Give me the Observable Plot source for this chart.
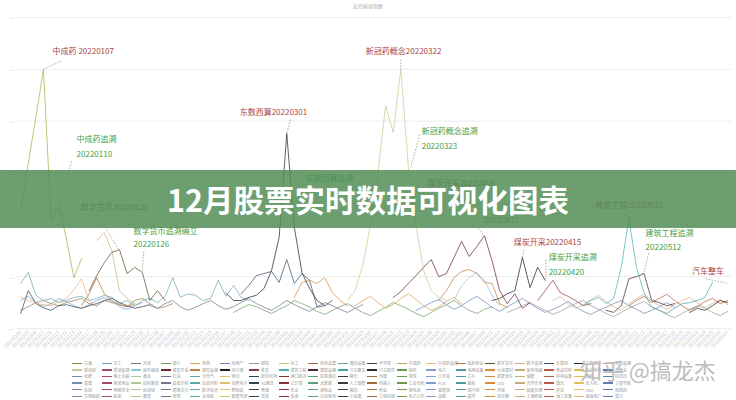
<!DOCTYPE html>
<html><head><meta charset="utf-8">
<script src="https://cdn.jsdelivr.net/npm/d3@7"></script>
<script src="https://cdn.jsdelivr.net/npm/@observablehq/plot@0.6"></script>
<style>
html,body{margin:0;padding:0;background:#fff;}
#wrap{position:relative;width:736px;height:400px;overflow:hidden;font-family:"Noto Sans CJK SC","Noto Sans",sans-serif;}
#chart{position:absolute;left:0;top:0;}
#top{position:absolute;top:3px;left:0;width:736px;text-align:center;font-size:5px;line-height:6px;color:#aaa;}
#legend{position:absolute;left:72px;top:360px;display:grid;grid-template-columns:repeat(19,29.5px);}
.li{height:6.6px;display:flex;align-items:center;font-size:4px;color:#999;white-space:nowrap;}
.li i{display:inline-block;width:10px;height:1.5px;margin-right:2px;flex:none;}
#banner{position:absolute;left:0;top:170px;width:736px;height:58px;background:rgba(82,141,87,0.85);display:flex;align-items:center;justify-content:center;color:#fff;font-size:30.5px;font-weight:bold;}
#wm{position:absolute;left:580px;top:353px;font-size:22px;color:#bdbdbd;}
</style></head><body>
<div id="wrap">
 <div id="chart"></div>
 <div id="top">近日板块指数</div>
 <div id="legend"></div>
 <div id="wm">知乎 @搞龙杰</div>
 <div id="banner">12月股票实时数据可视化图表</div>
</div>
<script>
// ---------- data ----------
const dates = [
"20220104","20220105","20220106","20220107","20220110","20220111","20220112","20220113","20220114","20220117",
"20220118","20220119","20220120","20220121","20220124","20220125","20220126","20220127","20220128",
"20220207","20220208","20220209","20220210","20220211","20220214","20220215","20220216","20220217","20220218",
"20220221","20220222","20220223","20220224","20220225","20220228",
"20220301","20220302","20220303","20220304","20220307","20220308","20220309","20220310","20220311","20220314",
"20220315","20220316","20220317","20220318","20220321","20220322","20220323","20220324","20220325","20220328",
"20220329","20220330","20220331",
"20220401","20220406","20220407","20220408","20220411","20220412","20220413","20220414","20220415","20220418",
"20220419","20220420","20220421","20220422","20220425","20220426","20220427","20220428","20220429",
"20220505","20220506","20220509","20220510","20220511","20220512","20220513","20220516","20220517","20220518",
"20220519","20220520","20220523","20220524","20220525","20220526","20220527"];

const yTicks = [0, 100, 200, 300, 400, 500, 600];

const zhongchengyao      = [228, 318, 408, 500, 208, 237, 174, 98, 135];
const zhongchengyaoZS    = [60, 54, 48, 46, 44, 52, 58, 75, 96, 54, 42];
const shuzihuobi         = [73, 102, 127, 147, 152, 106, 118, 108, 54, 73, 54];
const shuzihuobiZS       = [170, 185, 150, 73, 58, 48];
const yiyaoshangye       = [44, 67, 98, 67, 54, 46, 42, 48];
const tongxinshebei      = [87, 108, 64, 54, 58, 50, 54, 60, 62, 54, 58, 64, 60, 48, 54, 44, 54, 58, 50, 62, 98, 60, 67, 64, 54, 58, 93, 62, 83, 60, 54];
const bandaoti           = [29, 73, 48, 40, 35, 44, 46, 42, 39, 44, 48, 54, 58, 50, 44, 39, 42, 46];
const jisuanji           = [67, 83, 102, 106, 110, 89, 133, 87, 106, 93, 41, 44, 54];
const dongshuxisuan      = [69, 54, 54, 60, 64, 77, 112, 176, 376, 195, 108, 77, 54, 44];
const dongshuxisuanZS    = [60, 89, 93, 87, 98, 69, 54, 44];
const xinguanyao         = [54, 73, 122, 199, 301, 430, 378, 500, 311, 199, 112, 73, 60, 54];
const meitankaicai       = [60, 71, 87, 102, 118, 133, 100, 106, 137, 168, 139, 158, 179, 131, 73, 48, 67, 39, 50];
const meitanZS           = [54, 73, 98, 110, 114, 106, 89, 87, 48, 41];
const donglimei          = [54, 58, 67, 73, 137, 79, 118, 93];
const jiaotan            = [54, 73, 93, 69, 62, 54, 44, 48];
const yiliaoqixie        = [54, 83, 98, 108, 93, 64, 44];
const jianzhugongcheng   = [44, 54, 60, 48, 58, 118, 212, 118, 69, 41, 35];
const jianzhuZS          = [35, 31, 44, 96, 100, 106, 54, 50, 44, 48];
const qichezhengche      = [35, 29, 39, 48, 50, 54, 60, 89];
const qichepeijian       = [31, 39, 35, 44, 54, 50];
const baijiu             = [35, 42, 50, 54, 48, 44, 50, 54, 58, 48, 44, 54, 50, 46, 42, 54, 58, 48, 39, 42, 48];
const guangfu            = [44, 39, 48, 54, 42, 35, 41, 48, 54, 44, 37, 42, 50, 58, 48, 41, 35, 44, 54, 46, 39, 33, 42, 50, 44, 37, 31, 39, 46];
const yinhang            = [31, 39, 46, 42, 35, 29, 37, 44, 54, 48, 41, 33, 27, 35, 42, 48, 39, 31, 25, 33, 41, 50, 44, 37, 29, 23, 31, 39, 46, 54, 44, 35, 29, 37, 42];
const quanshang          = [44, 54, 62, 50, 39, 46, 58, 67, 56, 44, 35, 42, 52, 60, 48];
const fangdichan         = [35, 42, 50, 56, 46, 37, 44, 54, 62, 52, 41, 33, 42, 50, 58, 48, 39, 31, 37, 44, 52, 42, 33, 27, 35, 41, 48, 54, 44, 37, 29, 35, 42, 50, 41];
const gangtie            = [31, 37, 44, 50, 42, 35, 27, 33, 41, 48, 54, 44, 37, 29, 23, 31, 39, 46, 52, 42, 35, 27, 21, 29, 37, 44, 39, 31, 25, 33];
const huagong            = [54, 62, 48, 39, 46, 56, 64, 52, 42, 35, 48, 58, 66, 54, 44, 37, 46, 54, 60, 50, 41, 48, 56, 46];
const youse              = [44, 54, 62, 50, 58, 66, 54, 44, 35, 42, 52, 58, 48, 54];
const jungong            = [54, 62, 50, 42, 48, 58, 52, 44, 39, 46, 54, 60, 52, 42, 37, 44, 50];

// [series name, first date, values]
const seriesList = [
  ["白酒", "20220104", baijiu],
  ["军工", "20220104", jungong],
  ["光伏", "20220127", guangfu],
  ["银行", "20220218", yinhang],
  ["券商", "20220314", quanshang],
  ["房地产", "20220324", fangdichan],
  ["钢铁", "20220413", gangtie],
  ["化工", "20220421", huagong],
  ["有色金属", "20220510", youse],
  ["通信设备", "20220104", tongxinshebei],
  ["半导体", "20220104", bandaoti],
  ["中成药追溯", "20220104", zhongchengyaoZS],
  ["医药商业", "20220114", yiyaoshangye],
  ["数字货币追溯", "20220118", shuzihuobiZS],
  ["数字货币", "20220117", shuzihuobi],
  ["计算机", "20220221", jisuanji],
  ["东数西算追溯", "20220302", dongshuxisuanZS],
  ["医疗器械", "20220331", yiliaoqixie],
  ["煤炭开采追溯", "20220329", meitanZS],
  ["焦炭", "20220419", jiaotan],
  ["建筑工程追溯", "20220505", jianzhuZS],
  ["汽车配件", "20220520", qichepeijian],
  ["汽车整车", "20220516", qichezhengche],
  ["建筑工程", "20220427", jianzhugongcheng],
  ["动力煤", "20220411", donglimei],
  ["煤炭开采", "20220321", meitankaicai],
  ["东数西算", "20220217", dongshuxisuan],
  ["新冠药概念", "20220311", xinguanyao],
  ["中成药", "20220104", zhongchengyao]
];

const legendNames = [
  "白酒","军工","光伏","银行","券商","房地产","钢铁","化工","有色金属","通信设备","半导体","中成药","中成药追溯","医药商业","数字货币","数字追溯","计算机","东数西算","东数追溯",
  "新冠药","新冠追溯","医疗器械","煤炭开采","煤炭追溯","动力煤","焦炭","建筑工程","建筑追溯","汽车整车","汽车配件","保险","电力","电网设备","水泥建材","家用电器","食品饮料","农业种植","养殖业",
  "化肥","稀土永磁","黄金","石油","天然气","物流","航空机场","港口航运","旅游酒店","餐饮","传媒","游戏","元宇宙","芯片","新能源车","储能","风电设备","核电","特高压","基建",
  "家居用品","纺织服装","造纸印刷","包装材料","消费电子","5G概念","云计算","大数据","人工智能","机器人","工业母机","PCB","面板","LED","光学光电","激光","无人机","卫星导航","信创","网络安全",
  "区块链","跨境支付","数字经济","预制菜","啤酒","乳业","调味品","猪肉","种业","锂电池","氢能源","碳中和","环保","固废处理","疫苗","CRO","创新药","生物医药","医美",
  "教育","体育","充电桩","智能驾驶","高铁","快递","白色家电","小金属","工程机械","电子元件","油服","超导","草甘膦","土壤修复","海工装备","虚拟电厂","算力"
];

// ---------- styles ----------
const colorOf = {
  "中成药": "#a9ab4c", "中成药追溯": "#e8b07e", "数字货币": "#5e4b2a", "数字货币追溯": "#cbb27f", "数字追溯": "#cbb27f",
  "医药商业": "#b8743c", "通信设备": "#6aa9b1", "半导体": "#2f4554", "计算机": "#34506a",
  "东数西算": "#262626", "东数西算追溯": "#d4893c", "东数追溯": "#d4893c", "新冠药概念": "#cfc78f", "新冠药": "#cfc78f", "煤炭开采": "#6b2737",
  "煤炭开采追溯": "#c67e3e", "煤炭追溯": "#c67e3e", "动力煤": "#1f1f1f", "焦炭": "#8b3a4a", "医疗器械": "#8fc3d8",
  "建筑工程": "#4fb0b3", "建筑工程追溯": "#4a2a35", "建筑追溯": "#4a2a35", "汽车整车": "#4aa3a3", "汽车配件": "#2b2b2b",
  "白酒": "#9a7b4f", "光伏": "#7b6f8c", "银行": "#6aa064", "券商": "#e0a050", "房地产": "#6f87b8",
  "钢铁": "#9a9a9a", "化工": "#d4b483", "有色金属": "#b3603f", "军工": "#7f9fc6"
};
const palette = ["#6d8fb0","#a34d6d","#a8c99a","#7a708f","#5ea8a8","#d9bf6a","#2f4554","#8b2f3a","#5f9f7a","#3b3b3b","#9b6b3b","#6a9a50","#7d9cd0","#4f9aa0","#d98b3a","#c4ac7c","#b85a4a","#e0c050","#5a7fb0"];

const redText = "#a84444", greenText = "#45a045", grayText = "#5d6a57";
// annotation labels in data coordinates (index, value)
const notes = [
  {t: "中成药 20220107", i: 4.2, v: 534, c: redText},
  {t: "中成药追溯", i: 7.35, v: 365, c: greenText},
  {t: "20220110", i: 7.35, v: 336, c: greenText},
  {t: "数字货币20220121", i: 7.9, v: 233, c: grayText},
  {t: "数字货币追溯确立", i: 14.85, v: 187, c: greenText},
  {t: "20220126", i: 14.85, v: 162, c: greenText},
  {t: "东数西算20220301", i: 28.8, v: 417, c: redText},
  {t: "东数西算追溯", i: 37.5, v: 289, c: greenText},
  {t: "新冠药概念20220322", i: 45.4, v: 534, c: redText},
  {t: "新冠药概念追溯", i: 52.75, v: 380, c: greenText},
  {t: "20220323", i: 52.75, v: 351, c: greenText},
  {t: "煤炭开采20220408", i: 53.5, v: 280, c: redText},
  {t: "20220411", i: 60.9, v: 208, c: greenText},
  {t: "煤炭开采20220415", i: 64.85, v: 166, c: redText},
  {t: "煤炭开采追溯", i: 69.45, v: 137, c: greenText},
  {t: "20220420", i: 69.45, v: 108, c: greenText},
  {t: "建筑工程20220510", i: 75.6, v: 237, c: redText},
  {t: "建筑工程追溯", i: 82.2, v: 183, c: greenText},
  {t: "20220512", i: 82.2, v: 156, c: greenText},
  {t: "汽车整车", i: 88.3, v: 110, c: redText}
];
const leaders = [
  {i1: 3, v1: 500, i2: 5.5, v2: 517},
  {i1: 6.7, v1: 322, i2: 5.2, v2: 241},
  {i1: 10.1, v1: 220, i2: 12.9, v2: 152},
  {i1: 16.2, v1: 149, i2: 16, v2: 112},
  {i1: 35.5, v1: 403, i2: 35, v2: 376},
  {i1: 50, v1: 519, i2: 50, v2: 500},
  {i1: 52.5, v1: 374, i2: 51.3, v2: 311},
  {i1: 60.2, v1: 193, i2: 61, v2: 179},
  {i1: 66.2, v1: 152, i2: 66, v2: 137},
  {i1: 69.1, v1: 133, i2: 69.1, v2: 96},
  {i1: 79.2, v1: 228, i2: 80, v2: 212},
  {i1: 82.6, v1: 145, i2: 82, v2: 108},
  {i1: 90.1, v1: 96, i2: 92.9, v2: 87}
];

// ---------- build ----------
const lineMarks = seriesList.map(([name, start, vals]) => {
  const s = dates.indexOf(start);
  const rows = vals.map((v, k) => ({i: s + k, v}));
  return Plot.lineY(rows, {x: "i", y: "v", stroke: colorOf[name], strokeWidth: 1, strokeOpacity: 0.72});
});

const chart = Plot.plot({
  width: 736, height: 350,
  marginTop: 17, marginBottom: 22, marginLeft: 16, marginRight: 5,
  style: {fontFamily: "Noto Sans CJK SC, Noto Sans, sans-serif", background: "transparent"},
  x: {domain: [-0.55, 93.5]},
  y: {domain: [0, 600]},
  marks: [
    Plot.ruleY(yTicks, {stroke: "#ededed", strokeWidth: 1}),
    Plot.axisY(yTicks, {tickFormat: () => "...", tickSize: 0, tickPadding: 3, fontSize: 6, fill: "#bbb"}),
    Plot.axisX(d3.range(dates.length), {tickFormat: i => dates[i], tickRotate: -45, tickSize: 0, tickPadding: 3, fontSize: 5, fill: "#c4c4c4"}),
    ...lineMarks,
    Plot.link(leaders, {x1: "i1", y1: "v1", x2: "i2", y2: "v2", stroke: "#aaa", strokeWidth: 1, strokeDasharray: "1.5,1.5"}),
    Plot.text(notes, {x: "i", y: "v", text: "t", fill: "c", textAnchor: "start", fontSize: 8})
  ]
});
document.getElementById("chart").appendChild(chart);

// legend
const lg = document.getElementById("legend");
legendNames.forEach((n, k) => {
  const d = document.createElement("div");
  d.className = "li";
  const sw = document.createElement("i");
  sw.style.background = colorOf[n] || palette[k % palette.length];
  d.appendChild(sw);
  d.appendChild(document.createTextNode(n));
  lg.appendChild(d);
});
</script>
</body></html>
